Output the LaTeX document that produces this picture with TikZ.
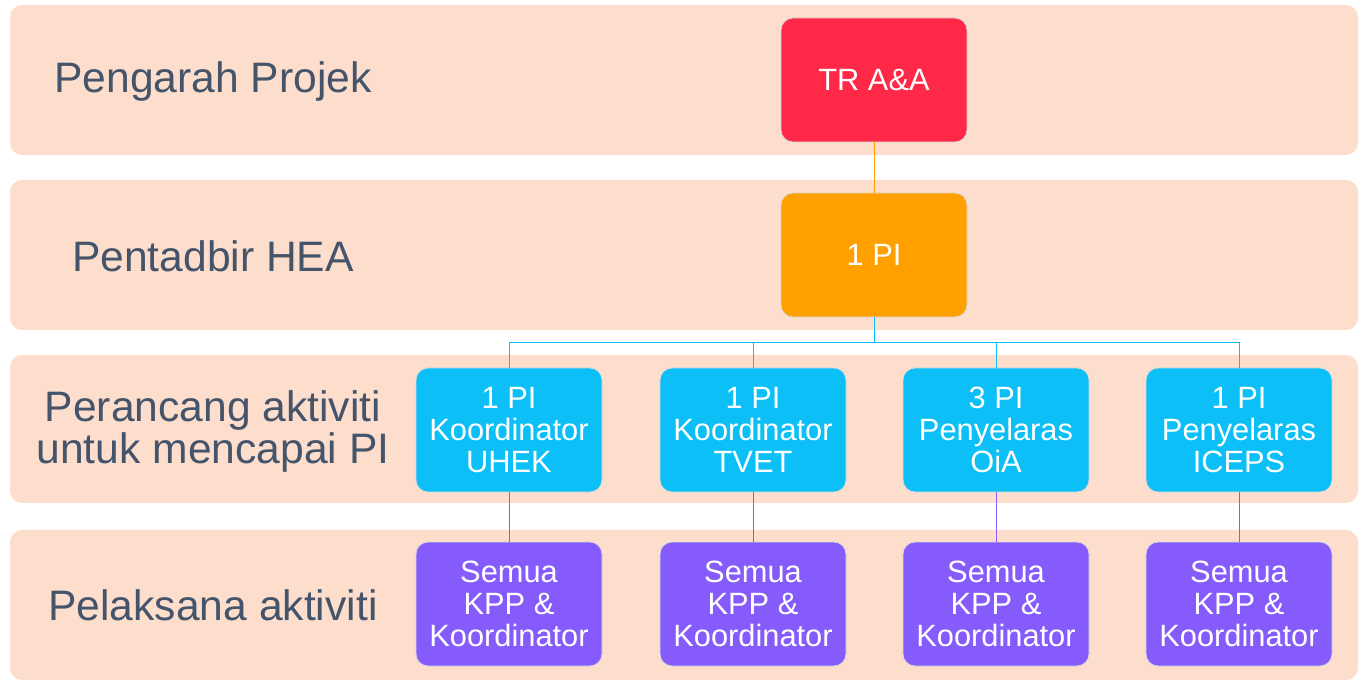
\documentclass[tikz,border=0pt]{standalone}
\usepackage{fontspec}
\setmainfont{Liberation Sans}
\usepackage{tikz}
\usetikzlibrary{positioning}
\definecolor{bandPeach}{HTML}{FDDDCB}
\definecolor{labelSlate}{HTML}{44546A}
\definecolor{boxRed}{HTML}{FF2846}
\definecolor{boxOrange}{HTML}{FF9F00}
\definecolor{boxBlue}{HTML}{0CBFF7}
\definecolor{boxPurple}{HTML}{855CFB}
\tikzset{
	band/.style={fill=bandPeach, rounded corners=12pt},
	levelLabel/.style={text=labelSlate, align=center, font=\fontsize{42.6}{42}\selectfont},
	orgBox/.style={draw=white!85!black, line width=0.8pt, rounded corners=12pt, minimum width=186pt, minimum height=124pt, inner sep=0pt, align=center, text=white, font=\fontsize{30.8}{32.3}\selectfont}
}

\begin{document}
\begin{tikzpicture}[x=1pt,y=-1pt]
	\useasboundingbox (0,0) rectangle (1361,684);
	% bands
	\fill[band] (10,5) rectangle (1358,155);
	\fill[band] (10,180) rectangle (1358,330);
	\fill[band] (10,355) rectangle (1358,503);
	\fill[band] (10,530) rectangle (1358,680);
	% level labels
	\node[levelLabel] (lblPengarah) at (213,81) {Pengarah Projek};
	\node[levelLabel] (lblPentadbir) at (213,256) {Pentadbir HEA};
	\node[levelLabel] (lblPerancang) at (213,431) {Perancang aktiviti\\untuk mencapai PI};
	\node[levelLabel] (lblPelaksana) at (213,605) {Pelaksana aktiviti};
	% boxes
	\node[orgBox, fill=boxRed] (tra) at (874,80) {TR A\&A};
	\node[orgBox, fill=boxOrange] (pi) at (874,255) {1 PI};
	\node[orgBox, fill=boxBlue] (uhek) at (509,430) {1 PI\\Koordinator\\UHEK};
	\node[orgBox, fill=boxBlue] (tvet) at (753,430) {1 PI\\Koordinator\\TVET};
	\node[orgBox, fill=boxBlue] (oia) at (996,430) {3 PI\\Penyelaras\\OiA};
	\node[orgBox, fill=boxBlue] (iceps) at (1239,430) {1 PI\\Penyelaras\\ICEPS};
	\node[orgBox, fill=boxPurple] (kppA) at (509,604) {Semua\\KPP \&\\Koordinator};
	\node[orgBox, fill=boxPurple] (kppB) at (753,604) {Semua\\KPP \&\\Koordinator};
	\node[orgBox, fill=boxPurple] (kppC) at (996,604) {Semua\\KPP \&\\Koordinator};
	\node[orgBox, fill=boxPurple] (kppD) at (1239,604) {Semua\\KPP \&\\Koordinator};
	% connectors
	\coordinate (split) at (874,342);
	\draw[boxOrange, line width=0.8pt] (tra) -- (pi);
	\draw[boxBlue, line width=0.8pt] (pi) -- (split);
	\draw[boxBlue, line width=0.8pt] (split) -| (uhek.north);
	\draw[boxBlue, line width=0.8pt] (split) -| (tvet.north);
	\draw[boxBlue, line width=0.8pt] (split) -| (oia.north);
	\draw[boxBlue, line width=0.8pt] (split) -| (iceps.north);
	\draw[boxPurple, line width=0.8pt] (uhek) -- (kppA);
	\draw[boxPurple, line width=0.8pt] (tvet) -- (kppB);
	\draw[boxPurple, line width=0.8pt] (oia) -- (kppC);
	\draw[boxPurple, line width=0.8pt] (iceps) -- (kppD);
\end{tikzpicture}
\end{document}
